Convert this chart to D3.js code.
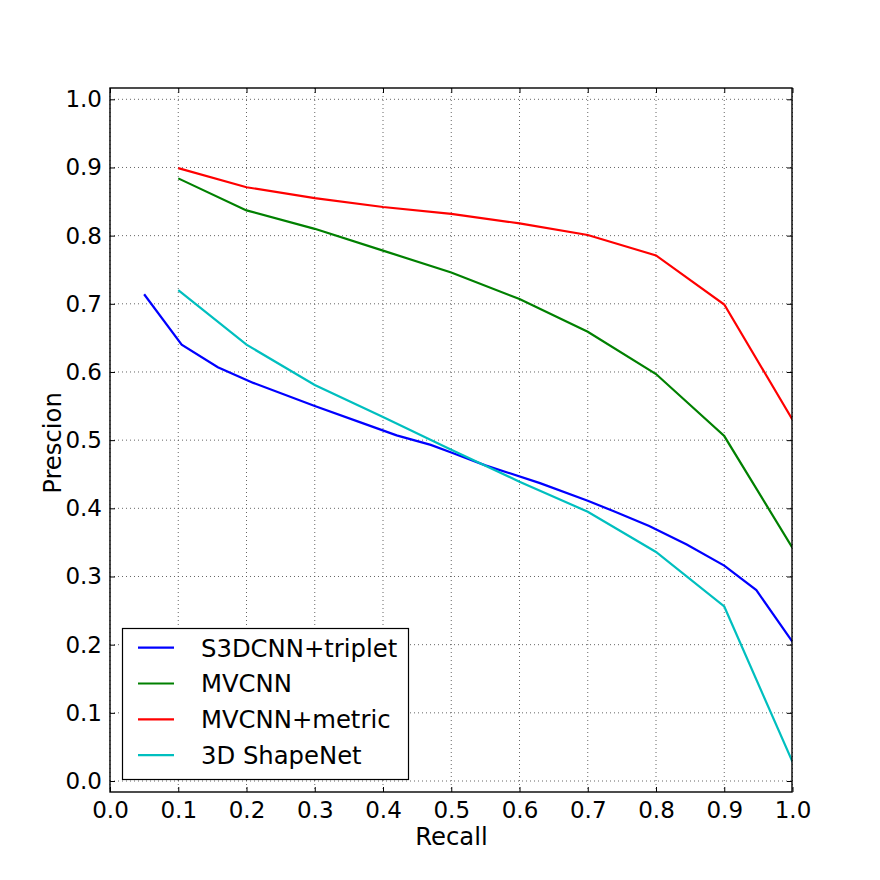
<!DOCTYPE html>
<html>
<head>
<meta charset="utf-8">
<script src="https://cdn.jsdelivr.net/npm/d3@7"></script>
<style>
  body { margin: 0; background: #fff; }
  text { font-family: "DejaVu Sans", sans-serif; fill: #000; }
</style>
</head>
<body>
<div id="chart-area"></div>
<script>
/*
*    precision / recall curves
*/

var seriesNames = ["S3DCNN+triplet", "MVCNN", "MVCNN+metric", "3D ShapeNet"];
var seriesColors = ["#0000ff", "#008000", "#ff0000", "#00bfbf"];

var s3dcnnRecall = [0.05, 0.105, 0.158, 0.21, 0.30, 0.37, 0.42, 0.47, 0.50, 0.55, 0.63, 0.70, 0.74, 0.79, 0.845, 0.90, 0.947, 1.0];
var s3dcnnPrec   = [0.714, 0.640, 0.607, 0.584, 0.550, 0.525, 0.507, 0.493, 0.482, 0.463, 0.437, 0.411, 0.395, 0.374, 0.347, 0.316, 0.280, 0.204];

var mvcnnRecall = [0.1, 0.2, 0.3, 0.4, 0.5, 0.6, 0.7, 0.8, 0.9, 1.0];
var mvcnnPrec   = [0.884, 0.837, 0.810, 0.778, 0.746, 0.707, 0.659, 0.597, 0.506, 0.342];

var metricRecall = [0.1, 0.2, 0.3, 0.4, 0.5, 0.6, 0.7, 0.8, 0.9, 1.0];
var metricPrec   = [0.899, 0.871, 0.855, 0.842, 0.832, 0.818, 0.801, 0.771, 0.699, 0.530];

var shapenetRecall = [0.1, 0.2, 0.3, 0.4, 0.5, 0.6, 0.7, 0.8, 0.9, 1.0];
var shapenetPrec   = [0.720, 0.640, 0.581, 0.534, 0.486, 0.439, 0.395, 0.336, 0.256, 0.028];

var xTicks = [0.0, 0.1, 0.2, 0.3, 0.4, 0.5, 0.6, 0.7, 0.8, 0.9, 1.0];
var yTicks = [0.0, 0.1, 0.2, 0.3, 0.4, 0.5, 0.6, 0.7, 0.8, 0.9, 1.0];

var allRecall = [s3dcnnRecall, mvcnnRecall, metricRecall, shapenetRecall];
var allPrec = [s3dcnnPrec, mvcnnPrec, metricPrec, shapenetPrec];

var plotL = 110, plotR = 792, plotT = 88, plotB = 792;

var svg = d3.select("#chart-area").append("svg")
    .attr("width", 880)
    .attr("height", 880);

var x = d3.scaleLinear().domain([0, 1]).range([plotL, 792.5]);
var y = d3.scaleLinear().domain([0, 1]).range([781, 99.3]);

// grid
svg.append("g").selectAll("line").data(xTicks).enter().append("line")
    .attr("x1", d => x(d)).attr("x2", d => x(d))
    .attr("y1", plotT).attr("y2", plotB)
    .attr("stroke", "#555").attr("stroke-width", 0.9)
    .attr("stroke-dasharray", "1,3");
svg.append("g").selectAll("line").data(yTicks).enter().append("line")
    .attr("x1", plotL).attr("x2", plotR)
    .attr("y1", d => y(d)).attr("y2", d => y(d))
    .attr("stroke", "#555").attr("stroke-width", 0.9)
    .attr("stroke-dasharray", "1,3");

// curves
var line = d3.line()
    .x(d => x(d[0]))
    .y(d => y(d[1]));

svg.append("clipPath").attr("id", "plot-clip")
    .append("rect")
    .attr("x", plotL).attr("y", plotT)
    .attr("width", plotR - plotL).attr("height", plotB - plotT);

allRecall.forEach(function(rec, i) {
    var pts = rec.map((r, j) => [r, allPrec[i][j]]);
    svg.append("path")
        .attr("d", line(pts))
        .attr("fill", "none")
        .attr("stroke", seriesColors[i])
        .attr("stroke-width", 2.2)
        .attr("clip-path", "url(#plot-clip)");
});

// axes with inward ticks on all sides
var xAxisB = d3.axisBottom(x).tickValues(xTicks).tickFormat(d3.format(".1f"))
    .tickSizeInner(-5).tickSizeOuter(0).tickPadding(10);
var xAxisT = d3.axisTop(x).tickValues(xTicks).tickFormat("")
    .tickSizeInner(-5).tickSizeOuter(0);
var yAxisL = d3.axisLeft(y).tickValues(yTicks).tickFormat(d3.format(".1f"))
    .tickSizeInner(-5).tickSizeOuter(0).tickPadding(8);
var yAxisR = d3.axisRight(y).tickValues(yTicks).tickFormat("")
    .tickSizeInner(-5).tickSizeOuter(0);

var gx = svg.append("g").attr("transform", "translate(0," + plotB + ")").call(xAxisB);
svg.append("g").attr("transform", "translate(0," + plotT + ")").call(xAxisT);
var gy = svg.append("g").attr("transform", "translate(" + plotL + ",0)").call(yAxisL);
svg.append("g").attr("transform", "translate(" + plotR + ",0)").call(yAxisR);

svg.selectAll(".domain").remove();
svg.selectAll(".tick line").attr("stroke", "#000").attr("stroke-width", 1);
svg.selectAll(".tick text")
    .style("font-size", "23px").style("font-family", "'DejaVu Sans'");
gx.attr("font-size", null).attr("font-family", null);
gy.attr("font-size", null).attr("font-family", null);

// frame
svg.append("rect")
    .attr("x", plotL).attr("y", plotT)
    .attr("width", plotR - plotL).attr("height", plotB - plotT)
    .attr("fill", "none").attr("stroke", "#000").attr("stroke-width", 1.4);

// axis labels
svg.append("text")
    .attr("x", (plotL + plotR) / 2 + 0.5).attr("y", 845)
    .attr("text-anchor", "middle")
    .style("font-size", "24.3px")
    .text("Recall");

svg.append("text")
    .attr("transform", "translate(61," + ((plotT + plotB) / 2 + 3) + ") rotate(-90)")
    .attr("text-anchor", "middle")
    .style("font-size", "24.3px")
    .text("Prescion");

// legend
var legend = svg.append("g");
legend.append("rect")
    .attr("x", 122.5).attr("y", 628.5)
    .attr("width", 286).attr("height", 151)
    .attr("fill", "#fff").attr("stroke", "#000").attr("stroke-width", 1.2);

seriesNames.forEach(function(name, i) {
    var ly = 647.7 + i * 35.8;
    legend.append("line")
        .attr("x1", 138).attr("x2", 174)
        .attr("y1", ly).attr("y2", ly)
        .attr("stroke", seriesColors[i]).attr("stroke-width", 2.2);
    legend.append("text")
        .attr("x", 201).attr("y", ly + 8.8)
        .style("font-size", "24.3px")
        .text(name);
});
</script>
</body>
</html>
